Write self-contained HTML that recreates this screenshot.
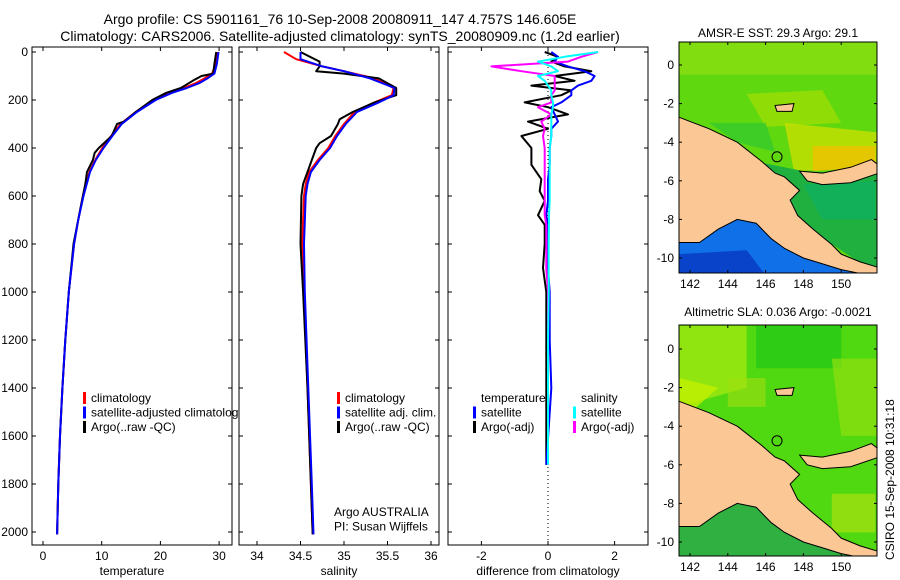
<!DOCTYPE html>
<html><head><meta charset="utf-8"><style>
html,body{margin:0;padding:0;background:#fff}
svg{display:block;font-family:"Liberation Sans",sans-serif}
text{font-size:12px;fill:#000}
.tt{font-size:14px}
</style></head><body>
<svg id="s" width="900" height="580" viewBox="0 0 900 580" xmlns="http://www.w3.org/2000/svg">
<text class="tt" x="340" y="24" text-anchor="middle">Argo profile: CS 5901161_76 10-Sep-2008 20080911_147 4.757S 146.605E</text>
<text class="tt" x="340" y="41" text-anchor="middle">Climatology: CARS2006. Satellite-adjusted climatology: synTS_20080909.nc (1.2d earlier)</text>
<text x="778" y="37" text-anchor="middle">AMSR-E SST: 29.3 Argo: 29.1</text>
<text x="778" y="316" text-anchor="middle">Altimetric SLA: 0.036 Argo: -0.0021</text>
<text transform="translate(894,560) rotate(-90)">CSIRO 15-Sep-2008 10:31:18</text>
<g id="g"></g>
</svg>
<script>
// ---- data ----
const depthT = [0,50,90,110,130,150,170,200,250,300,350,400,450,500,600,700,800,1000,1200,1400,1600,1800,2010];
const tempClim = [29.6,29.4,28.8,27.5,26.0,24.0,21.5,18.8,15.8,13.2,11.6,10.1,8.9,7.9,6.8,6.0,5.3,4.4,3.8,3.3,2.9,2.6,2.4];
const tempSat  = [29.9,29.6,29.2,28.0,26.6,24.5,22.0,19.2,16.0,13.4,11.8,10.3,9.0,8.0,6.9,6.0,5.3,4.4,3.8,3.3,2.9,2.6,2.4];
const depthTA = [0,50,90,100,120,150,170,200,250,290,300,350,400,420,450,500,550,600,700,800,1000,1200,1400,1600,1800,2010];
const tempArgo = [29.5,29.2,29.0,27.0,25.5,23.5,21.0,18.6,15.8,13.8,12.6,11.7,9.5,8.8,8.5,7.5,7.2,6.8,6.0,5.2,4.4,3.8,3.3,2.9,2.6,2.4];
const depthS = [0,30,60,80,110,150,180,210,250,300,350,400,450,500,550,600,800,1000,1400,1800,2010];
const salClim = [34.31,34.45,34.75,35.0,35.35,35.57,35.55,35.35,35.12,35.0,34.9,34.82,34.7,34.6,34.56,34.54,34.52,34.54,34.58,34.62,34.64];
const salSat  = [34.5,34.5,34.75,35.0,35.3,35.58,35.57,35.4,35.15,35.02,34.92,34.84,34.72,34.62,34.58,34.56,34.54,34.55,34.59,34.63,34.65];
const depthSA = [0,40,60,80,90,110,150,180,210,250,280,300,350,380,400,450,500,550,600,800,1000,1400,1800,2010];
const salArgo = [34.5,34.72,34.72,34.68,35.0,35.4,35.6,35.6,35.35,35.1,34.95,34.93,34.85,34.72,34.68,34.63,34.58,34.53,34.51,34.5,34.53,34.58,34.62,34.64];
const depthD = [0,20,40,60,80,100,120,140,160,180,210,230,260,290,320,350,400,470,530,580,620,680,720,800,900,1000,1200,1400,1720];
const dTempArgo = [-0.1,0.3,0.1,0.5,1.3,0.2,0.8,-0.5,0.7,0.4,-0.7,0.0,0.6,-0.6,0.0,-0.8,-0.5,-0.5,-0.2,-0.25,-0.1,-0.3,-0.1,-0.1,-0.15,-0.05,-0.05,-0.05,-0.05];
const dTempSat  = [0.1,0.3,0.2,0.6,1.1,1.4,1.3,0.9,0.7,0.7,0.4,0.1,0.2,0.3,0.1,0.1,0.05,0.05,0.0,0.0,0.0,-0.05,0.0,0.0,0.0,0.05,0.05,0.1,-0.05];
const dSalSat   = [1.5,0.5,-0.3,0.1,0.3,-0.3,-0.1,0.0,0.1,0.1,0.15,0.15,0.1,0.1,0.1,0.1,0.05,0.05,0.05,0.05,0.05,0.03,0.03,0.02,0.02,0.02,0.0,0.0,0.0];
const dSalArgo  = [1.5,1.0,0.6,-1.7,-0.8,0.2,0.2,0.2,0.2,0.1,0.1,-0.3,0.1,-0.2,-0.1,-0.15,-0.1,-0.1,-0.1,-0.1,-0.1,-0.1,-0.05,-0.05,-0.05,0.0,0.0,0.0,0.0];
const depthTicks = [0,200,400,600,800,1000,1200,1400,1600,1800,2000];
const tempTicks = [0,10,20,30];
const salTicks = [34,34.5,35,35.5,36];
const diffTicks = [-2,0,2];
const lonTicks = [142,144,146,148,150];
const latTicks = [0,-2,-4,-6,-8,-10];
// ---- helpers ----
const NS="http://www.w3.org/2000/svg", G=document.getElementById('g');
function el(t,a,p){const e=document.createElementNS(NS,t);for(const k in a)e.setAttribute(k,a[k]);(p||G).appendChild(e);return e;}
const yD = d => 52 + d*0.24;
const TOP=47, BOT=545;
function panel(name,x0,x1,xs,ticks,xlabel,showY){
  const g=el('g',{});  
  const r=el('rect',{x:x0,y:TOP,width:x1-x0,height:BOT-TOP,fill:'#fff',stroke:'#000','stroke-width':1},g);
   
  ticks.forEach(v=>{const x=xs(v);
    el('line',{x1:x,x2:x,y1:TOP,y2:TOP+4,stroke:'#000'},g);el('line',{x1:x,x2:x,y1:BOT,y2:BOT-4,stroke:'#000'},g);
    const t=el('text',{x:x,y:BOT+15,'text-anchor':'middle'},g);t.textContent=v;
     });
  depthTicks.forEach(d=>{const y=yD(d);
    el('line',{x1:x0,x2:x0+4,y1:y,y2:y,stroke:'#000'},g);el('line',{x1:x1,x2:x1-4,y1:y,y2:y,stroke:'#000'},g);
    if(showY){const t=el('text',{x:x0-4,y:y+4,'text-anchor':'end'},g);t.textContent=d;
       }});
  const xl=el('text',{x:(x0+x1)/2,y:BOT+30,'text-anchor':'middle'},g);xl.textContent=xlabel;
   
  return g;
}
function line(g,name,ds,vs,xs,color,w){
  const p=el('polyline',{points:ds.map((d,i)=>xs(vs[i]).toFixed(1)+','+yD(d).toFixed(1)).join(' '),fill:'none',stroke:color,'stroke-width':w||2,'stroke-linejoin':'round'},g);
   
}
function legend(g,x,y,items){
  items.forEach((it,i)=>{const yy=y+i*14.5;
    if(it[1]){el('rect',{x:x,y:yy-10,width:3,height:12,fill:it[1]},g);}
    const t=el('text',{x:x+8,y:yy},g);t.textContent=it[0];
     });
}
// panel 1
const xT=v=>43+v*5.87;
const g1=panel('temperature-panel',32,232,xT,tempTicks,'temperature',true);
line(g1,'temp-climatology',depthT,tempClim,xT,'#f00');
line(g1,'temp-argo',depthTA,tempArgo,xT,'#000');
line(g1,'temp-satellite',depthT,tempSat,xT,'#00f');
legend(g1,83,402,[['climatology','#f00'],['satellite-adjusted climatology','#00f'],['Argo(..raw -QC)','#000']]);
// panel 2
const xS=v=>257+(v-34)*87;
const g2=panel('salinity-panel',239,439,xS,salTicks,'salinity',false);
line(g2,'sal-climatology',depthS,salClim,xS,'#f00');
line(g2,'sal-argo',depthSA,salArgo,xS,'#000');
line(g2,'sal-satellite',depthS,salSat,xS,'#00f');
legend(g2,337,402,[['climatology','#f00'],['satellite adj. clim.','#00f'],['Argo(..raw -QC)','#000']]);
legend(g2,326,516,[['Argo AUSTRALIA',null],['PI: Susan Wijffels',null]]);
// panel 3
const xDf=v=>548+v*33.3;
const g3=panel('difference-panel',448,648,xDf,diffTicks,'difference from climatology',false);
el('line',{x1:548,x2:548,y1:TOP,y2:BOT,stroke:'#000','stroke-dasharray':'1,3'},g3);
line(g3,'temp-argo-diff',depthD,dTempArgo,xDf,'#000');
line(g3,'temp-sat-diff',depthD,dTempSat,xDf,'#00f');
line(g3,'sal-argo-diff',depthD,dSalArgo,xDf,'#f0f');
line(g3,'sal-sat-diff',depthD,dSalSat,xDf,'#0ff');
legend(g3,473,402,[['temperature',null],['satellite','#00f'],['Argo(-adj)','#000']]);
legend(g3,573,402,[['salinity',null],['satellite','#0ff'],['Argo(-adj)','#f0f']]);
// maps
const mainland=[[141.4,-2.7],[143,-3.3],[144.5,-4],[145.8,-5],[146.5,-5.6],[147,-5.8],[147.8,-6.5],[147.3,-7],[147.7,-7.8],[148.5,-8.5],[149.5,-9.3],[150,-9.8],[151,-10.2],[152,-10.5],[152,-10.9],[151,-10.8],[150,-10.6],[149,-10.3],[148,-10],[147,-9.5],[146.3,-9],[145.5,-8.2],[144.5,-8],[143.5,-8.5],[142.5,-9.2],[141.4,-9.2]];
const nbritain=[[147.8,-5.5],[149,-5.6],[150.5,-5.3],[151.6,-4.9],[152,-5.2],[152,-5.6],[150.5,-6.1],[149,-6.2],[148.2,-6.0]];
const island=[[146.5,-2.1],[147.5,-2.0],[147.4,-2.4],[146.6,-2.4]];
function map(name,yTop,y0,base,patches){
  const x0=679,x1=877,yB=yTop+231;
  const lx=v=>690+(v-142)*18.9, ly=v=>y0-v*19.3;
  const g=el('g',{});  
  const cid='c'+name; const cp=el('clipPath',{id:cid},g); el('rect',{x:x0,y:yTop,width:x1-x0,height:yB-yTop},cp);
  const inner=el('g',{'clip-path':'url(#'+cid+')'},g);
  el('rect',{x:x0,y:yTop,width:x1-x0,height:yB-yTop,fill:base},inner);
  patches.forEach(p=>el('polygon',{points:p[0].map(q=>lx(q[0])+','+ly(q[1])).join(' '),fill:p[1],opacity:p[2]||1},inner));
  [mainland,nbritain,island].forEach(poly=>{const q=el('polygon',{points:poly.map(q=>lx(q[0])+','+ly(q[1])).join(' '),fill:'#fbc895',stroke:'#000','stroke-width':1},inner);
     });
  const c=el('circle',{cx:lx(146.605),cy:ly(-4.757),r:5,fill:'none',stroke:'#000'},inner);
   
  el('rect',{x:x0,y:yTop,width:x1-x0,height:yB-yTop,fill:'none',stroke:'#000'},g);
  lonTicks.forEach(v=>{const x=lx(v);el('line',{x1:x,x2:x,y1:yB,y2:yB-3,stroke:'#000'},g);el('line',{x1:x,x2:x,y1:yTop,y2:yTop+3,stroke:'#000'},g);
    const t=el('text',{x:x,y:yB+15,'text-anchor':'middle'},g);t.textContent=v;
     });
  latTicks.forEach(v=>{const y=ly(v);el('line',{x1:x0,x2:x0+3,y1:y,y2:y,stroke:'#000'},g);el('line',{x1:x1,x2:x1-3,y1:y,y2:y,stroke:'#000'},g);
    const t=el('text',{x:x0-5,y:y+4,'text-anchor':'end'},g);t.textContent=v;
     });
}
map('sst-map',42,65,'#60d810',[
 [[[141.4,1.2],[152,1.2],[152,-0.5],[141.4,-0.5]],'#90e010',0.7],
 [[[145,-1.5],[149,-1.3],[150,-3],[146,-3.2]],'#b0e000',0.6],
 [[[147,-3],[152,-3.5],[152,-5.3],[147.5,-5.5]],'#c8e000',0.8],
 [[[148.5,-4.2],[151.8,-4.2],[151.8,-5.3],[148.5,-5.5]],'#f0c000',0.8],
 [[[143,-3],[146,-3],[146.5,-4.5],[144.5,-4]],'#30c830',0.7],
 [[[145.5,-5],[148,-5.5],[152,-5.7],[152,-10.9],[146,-7]],'#20b040',1],
 [[[148,-6.2],[151.8,-6],[151.8,-8],[149,-8]],'#10b060',0.8],
 [[[141.4,-8.3],[146.5,-7.5],[148,-9.5],[151,-10.9],[141.4,-10.9]],'#1070e8',1],
 [[[141.4,-9.8],[145,-9.6],[146,-10.9],[141.4,-10.9]],'#0838c0',0.8]]);
map('sla-map',325,349,'#50d810',[
 [[[141.4,1.2],[145,1.2],[145,-2],[141.4,-3]],'#a0e810',0.8],
 [[[141.4,-1.5],[143.5,-2],[142,-3.3],[141.4,-3.2]],'#c0f000',0.8],
 [[[145.5,1.2],[150,1.2],[150,-1],[145.5,-1]],'#20c818',0.7],
 [[[149.5,-0.5],[152,-0.5],[152,-4.5],[150,-4.5]],'#90e010',0.7],
 [[[144,-1.5],[146,-1.5],[146,-3],[144,-3]],'#a0e010',0.6],
 [[[141.4,-8],[146,-7.5],[148,-9.5],[151,-10.9],[141.4,-10.9]],'#30b040',1],
 [[[149.5,-7.5],[151.8,-7.5],[151.8,-9.5],[149.5,-9.5]],'#a0e010',0.8]]);
</script>
</body></html>
